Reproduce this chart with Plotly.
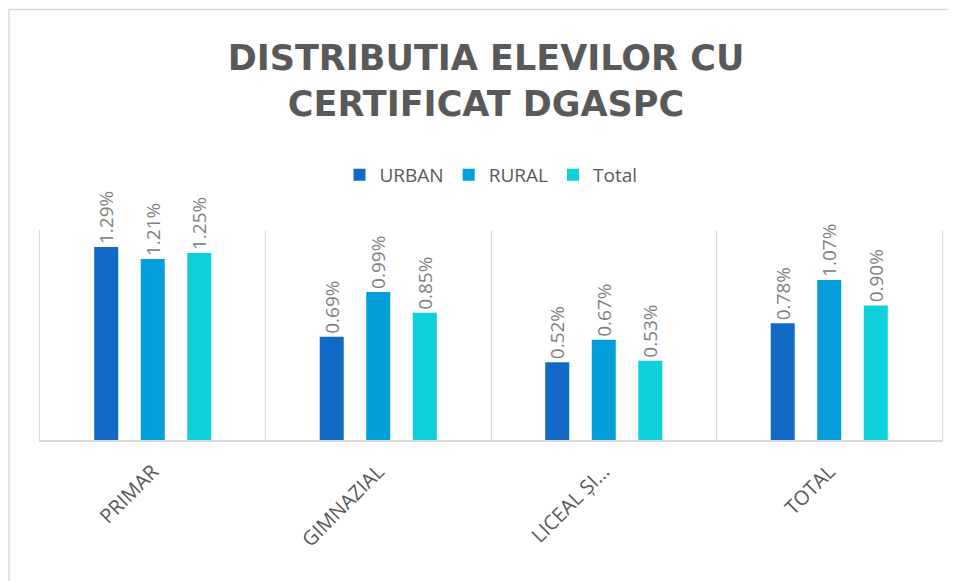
import plotly.graph_objects as go

categories = ["PRIMAR", "GIMNAZIAL", "LICEAL ȘI…", "TOTAL"]
urban = [1.29, 0.69, 0.52, 0.78]
rural = [1.21, 0.99, 0.67, 1.07]
total = [1.25, 0.85, 0.53, 0.90]

series = [("URBAN", urban, "#116AC5"), ("RURAL", rural, "#029FDA"), ("Total", total, "#0ED0DA")]

L, R, T, B = 32, 22, 222, 149
PW, PH = 956 - L - R, 581 - T - B

fig = go.Figure()
for name, vals, color in series:
    fig.add_trace(go.Bar(
        x=categories, y=vals, name=name, marker=dict(color=color, line=dict(width=0)),
        text=[f"{v:.2f}%" for v in vals], textposition="outside", textangle=-90,
        constraintext="none",
        textfont=dict(family="Open Sans", size=19, color="#808080"), cliponaxis=False,
    ))

fig.update_layout(
    width=956, height=581,
    margin=dict(l=L, r=R, t=T, b=B),
    paper_bgcolor="white", plot_bgcolor="white",
    barmode="group", bargap=0.381, bargroupgap=0.484,
    title=dict(text="<b>DISTRIBUTIA ELEVILOR CU<br>CERTIFICAT DGASPC</b>",
               x=0.5, xanchor="center", y=0.893, yanchor="middle", yref="container",
               font=dict(family="DejaVu Sans", size=35, color="#595959")),
    legend=dict(orientation="h", x=0.5, xanchor="center", y=1.262, yanchor="middle",
                font=dict(family="Open Sans", size=19, color="#595959"),
                itemwidth=30, traceorder="normal"),
    xaxis=dict(tickson="boundaries", showgrid=True, gridcolor="#D9D9D9", gridwidth=1,
               showline=True, linecolor="#D9D9D9", linewidth=2, ticks="",
               tickangle=-45, ticklabelstandoff=10,
               tickfont=dict(family="Open Sans", size=20, color="#595959")),
    yaxis=dict(range=[0, 1.404], showgrid=False, zeroline=False, showticklabels=False,
               showline=True, linecolor="#D9D9D9", linewidth=1, mirror=True, ticks=""),
    showlegend=True,
)

# outer chart frame
fig.add_shape(type="rect", xref="paper", yref="paper",
              x0=(1 - L) / PW, x1=(980 - L) / PW,
              y0=(PH + T - 620) / PH, y1=(PH + T - 1.5) / PH,
              line=dict(color="#D9D9D9", width=1.5), fillcolor="rgba(0,0,0,0)", layer="below")

fig.write_html("out.html")
